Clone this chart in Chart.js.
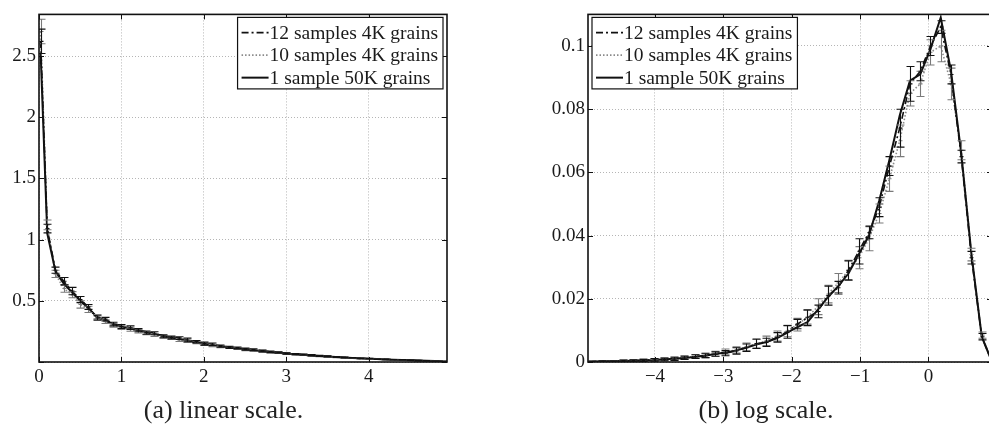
<!DOCTYPE html>
<html>
<head>
<meta charset="utf-8">
<script src="https://cdn.jsdelivr.net/npm/chart.js@4/dist/chart.umd.min.js"></script>
<style>
  html, body { margin: 0; padding: 0; background: #fff; overflow: hidden; width: 989px; height: 425px; }
  canvas { position: absolute; top: 0; }
  #linChart { left: 0; }
  #logChart { left: 540px; }
</style>
</head>
<body>
<canvas id="linChart" width="460" height="425"></canvas>
<canvas id="logChart" width="462" height="425"></canvas>
<script>
const seriesNames = ['12 samples 4K grains', '10 samples 4K grains', '1 sample 50K grains'];

// (a) linear scale
const linX = [0.02, 0.1, 0.2, 0.3, 0.4, 0.5, 0.6, 0.7, 0.8, 0.9,
  1.0, 1.1, 1.2, 1.3, 1.4, 1.5, 1.6, 1.7, 1.8, 1.9,
  2.0, 2.1, 2.2, 2.3, 2.4, 2.5, 2.6, 2.7, 2.8, 2.9,
  3.0, 3.1, 3.2, 3.3, 3.4, 3.5, 3.6, 3.7, 3.8, 3.9,
  4.0, 4.1, 4.2, 4.3, 4.4, 4.5, 4.6, 4.7, 4.8, 4.9];
const lin12 = [2.62, 1.09, 0.75, 0.66, 0.58, 0.51, 0.45, 0.36, 0.35, 0.31,
  0.29, 0.28, 0.26, 0.24, 0.235, 0.21, 0.2, 0.195, 0.18, 0.165,
  0.15, 0.145, 0.13, 0.12, 0.115, 0.105, 0.1, 0.09, 0.083, 0.077,
  0.07, 0.065, 0.06, 0.055, 0.05, 0.046, 0.041, 0.037, 0.034, 0.03,
  0.027, 0.024, 0.022, 0.019, 0.017, 0.015, 0.012, 0.01, 0.008, 0.006];
const lin12Err = [0.1, 0.035, 0.025, 0.03, 0.03, 0.025, 0.02, 0.018, 0.015, 0.015,
  0.015, 0.015, 0.013, 0.013, 0.012, 0.012, 0.011, 0.011, 0.015, 0.01,
  0.012, 0.01, 0.009, 0.009, 0.008, 0.008, 0.007, 0.007, 0.006, 0.006,
  0.006, 0.005, 0.005, 0.005, 0.004, 0.004, 0.004, 0.004, 0.003, 0.003,
  0.003, 0.003, 0.003, 0.002, 0.002, 0.002, 0.002, 0.002, 0.002, 0.002];
const lin10 = [2.7, 1.12, 0.72, 0.6, 0.55, 0.47, 0.43, 0.37, 0.33, 0.3,
  0.28, 0.265, 0.25, 0.235, 0.22, 0.205, 0.195, 0.18, 0.17, 0.16,
  0.145, 0.135, 0.125, 0.118, 0.11, 0.1, 0.095, 0.088, 0.08, 0.075,
  0.068, 0.063, 0.058, 0.053, 0.048, 0.044, 0.04, 0.036, 0.032, 0.029,
  0.026, 0.023, 0.021, 0.018, 0.016, 0.014, 0.012, 0.01, 0.008, 0.006];
const lin10Err = [0.1, 0.04, 0.03, 0.03, 0.025, 0.03, 0.025, 0.018, 0.015, 0.015,
  0.014, 0.014, 0.013, 0.012, 0.012, 0.011, 0.011, 0.012, 0.01, 0.01,
  0.01, 0.009, 0.009, 0.008, 0.008, 0.008, 0.007, 0.007, 0.006, 0.006,
  0.005, 0.005, 0.005, 0.004, 0.004, 0.004, 0.004, 0.003, 0.003, 0.003,
  0.003, 0.003, 0.002, 0.002, 0.002, 0.002, 0.002, 0.002, 0.002, 0.002];
const lin1 = [2.52, 1.05, 0.74, 0.64, 0.57, 0.5, 0.44, 0.37, 0.34, 0.31,
  0.29, 0.275, 0.26, 0.245, 0.23, 0.215, 0.2, 0.19, 0.175, 0.16,
  0.15, 0.14, 0.13, 0.12, 0.112, 0.104, 0.096, 0.089, 0.082, 0.076,
  0.07, 0.064, 0.059, 0.054, 0.049, 0.045, 0.041, 0.037, 0.033, 0.03,
  0.027, 0.024, 0.021, 0.019, 0.017, 0.014, 0.012, 0.01, 0.008, 0.006];

// (b) log scale
const logX = [-4.92, -4.77, -4.62, -4.47, -4.32, -4.17, -4.02, -3.87, -3.72, -3.57,
  -3.42, -3.27, -3.12, -2.97, -2.82, -2.67, -2.52, -2.37, -2.22, -2.07,
  -1.92, -1.77, -1.62, -1.47, -1.32, -1.17, -1.02, -0.87, -0.72, -0.57,
  -0.42, -0.27, -0.12, 0.03, 0.18, 0.33, 0.48, 0.63, 0.78, 0.93];
const log12 = [0.0001, 0.0002, 0.0002, 0.0003, 0.0004, 0.0005, 0.0007, 0.0008, 0.001, 0.0013,
  0.0017, 0.002, 0.0025, 0.0028, 0.0035, 0.0045, 0.0058, 0.0062, 0.0078, 0.0095,
  0.012, 0.014, 0.016, 0.021, 0.0235, 0.029, 0.035, 0.041, 0.049, 0.062,
  0.074, 0.088, 0.092, 0.1, 0.106, 0.091, 0.065, 0.033, 0.008, 0.0];
const log12Err = [0.0002, 0.0002, 0.0002, 0.0003, 0.0003, 0.0003, 0.0004, 0.0004, 0.0005, 0.0005,
  0.0006, 0.0006, 0.0007, 0.0008, 0.001, 0.0012, 0.0015, 0.0013, 0.0015, 0.002,
  0.0015, 0.0025, 0.002, 0.003, 0.002, 0.003, 0.004, 0.002, 0.003, 0.003,
  0.006, 0.0055, 0.003, 0.003, 0.002, 0.003, 0.002, 0.002, 0.001, 0.0];
const log10 = [0.0001, 0.0001, 0.0002, 0.0003, 0.0004, 0.0006, 0.0006, 0.0009, 0.0011, 0.0014,
  0.0017, 0.0021, 0.0026, 0.0032, 0.0038, 0.0048, 0.0057, 0.0067, 0.0082, 0.0098,
  0.0118, 0.0142, 0.0175, 0.0215, 0.025, 0.029, 0.033, 0.039, 0.047, 0.058,
  0.07, 0.085, 0.088, 0.098, 0.1, 0.088, 0.067, 0.034, 0.0085, 0.0];
const log10Err = [0.0002, 0.0002, 0.0002, 0.0003, 0.0003, 0.0004, 0.0004, 0.0005, 0.0005, 0.0006,
  0.0006, 0.0007, 0.0008, 0.0009, 0.001, 0.0012, 0.0014, 0.0015, 0.0016, 0.0018,
  0.002, 0.0022, 0.0025, 0.0028, 0.003, 0.0032, 0.0035, 0.0038, 0.003, 0.004,
  0.005, 0.004, 0.004, 0.004, 0.005, 0.005, 0.003, 0.002, 0.001, 0.0];
const log1 = [0.0001, 0.0002, 0.0002, 0.0003, 0.0004, 0.0005, 0.0006, 0.0008, 0.001, 0.0013,
  0.0016, 0.002, 0.0025, 0.003, 0.0036, 0.0045, 0.0055, 0.0063, 0.0075, 0.0092,
  0.011, 0.0126, 0.0165, 0.0205, 0.024, 0.028, 0.034, 0.04, 0.051, 0.064,
  0.078, 0.089, 0.091, 0.099, 0.109, 0.092, 0.066, 0.034, 0.008, 0.0];

Chart.defaults.font.family = '"Liberation Serif", "Times New Roman", serif';
Chart.defaults.font.size = 19;
Chart.defaults.color = '#1a1a1a';

const fmt = v => String(+v.toFixed(6)).replace('-', '\u2212');
const onStep = (v, step) => Math.abs(v / step - Math.round(v / step)) < 1e-6;

// error bars, frame, inside ticks and boxed legend
const matlabLook = {
  id: 'matlabLook',
  afterDatasetsDraw(chart) {
    const {ctx, chartArea: a, scales: {x, y}} = chart;
    ctx.save();
    ctx.beginPath();
    ctx.rect(a.left, a.top, a.right - a.left, a.bottom - a.top);
    ctx.clip();
    [1, 0].forEach(i => {
      const ds = chart.data.datasets[i];
      ctx.strokeStyle = ds.barColor;
      ctx.lineWidth = 1.1;
      ctx.setLineDash([]);
      ds.data.forEach((p, k) => {
        const e = ds.errors[k];
        if (!e) return;
        const px = Math.round(x.getPixelForValue(p.x)) + 0.5;
        const y1 = y.getPixelForValue(p.y - e);
        const y2 = y.getPixelForValue(p.y + e);
        const yc = y.getPixelForValue(p.y);
        ctx.beginPath();
        ctx.moveTo(px, y1); ctx.lineTo(px, y2);
        ctx.moveTo(px - 4, y1); ctx.lineTo(px + 4, y1);
        ctx.moveTo(px - 4, y2); ctx.lineTo(px + 4, y2);
        ctx.moveTo(px - 2, yc); ctx.lineTo(px + 2, yc);
        ctx.stroke();
      });
    });
    ctx.restore();
  },
  afterDraw(chart, args, opts) {
    const {ctx, chartArea: a, scales: {x, y}} = chart;
    ctx.save();
    ctx.setLineDash([]);
    ctx.strokeStyle = '#111';
    ctx.lineWidth = 1;
    x.ticks.forEach(t => {
      const px = Math.round(x.getPixelForValue(t.value)) + 0.5;
      ctx.beginPath();
      ctx.moveTo(px, a.bottom); ctx.lineTo(px, a.bottom - 5);
      ctx.moveTo(px, a.top); ctx.lineTo(px, a.top + 5);
      ctx.stroke();
    });
    y.ticks.forEach(t => {
      const py = Math.round(y.getPixelForValue(t.value)) + 0.5;
      ctx.beginPath();
      ctx.moveTo(a.left, py); ctx.lineTo(a.left + 5, py);
      ctx.moveTo(a.right, py); ctx.lineTo(a.right - 5, py);
      ctx.stroke();
    });
    ctx.lineWidth = 1.6;
    ctx.strokeRect(a.left, a.top, a.right - a.left, a.bottom - a.top);

    // legend box
    const dsets = chart.data.datasets;
    ctx.font = '19.5px "Liberation Serif", serif';
    const textW = Math.max(...dsets.map(d => ctx.measureText(d.label).width));
    const boxW = 4 + 27 + 1 + textW + 5;
    const rowH = 22.5;
    const boxH = rowH * dsets.length + 4;
    const left = opts.side === 'right' ? a.right - 4 - boxW : a.left + 4;
    const top = a.top + 3;
    ctx.fillStyle = '#fff';
    ctx.fillRect(left, top, boxW, boxH);
    ctx.lineWidth = 1.2;
    ctx.strokeStyle = '#111';
    ctx.strokeRect(left, top, boxW, boxH);
    dsets.forEach((d, r) => {
      const cy = top + 4 + rowH * (r + 0.5);
      ctx.beginPath();
      ctx.setLineDash(d.borderDash || []);
      ctx.strokeStyle = d.borderColor;
      ctx.lineWidth = d.borderWidth;
      ctx.moveTo(left + 4, cy); ctx.lineTo(left + 31, cy);
      ctx.stroke();
      ctx.setLineDash([]);
      ctx.fillStyle = '#1a1a1a';
      ctx.textBaseline = 'middle';
      ctx.textAlign = 'left';
      ctx.fillText(d.label, left + 32, cy + 1);
    });
    ctx.restore();
  }
};

function makeChart(id, xs, s12, e12, s10, e10, s1, axes, caption, legendSide) {
  const pts = ys => xs.map((x, i) => ({x: x, y: ys[i]}));
  const axis = (ax, side) => ({
    type: 'linear',
    min: ax.min,
    max: ax.max,
    afterBuildTicks: s => { s.ticks = s.ticks.filter(t => onStep(t.value, ax.step)); },
    afterFit: s => { if (side === 'x') s.height = 36; else s.width = ax.width; },
    grid: { color: '#b5b5b5', lineWidth: 1, drawTicks: false },
    border: { display: false, dash: [1, 2] },
    ticks: {
      stepSize: ax.step,
      includeBounds: false,
      padding: side === 'x' ? 4 : 3,
      maxRotation: 0,
      autoSkip: false,
      callback: v => (ax.hideZero && v === 0) ? '' : fmt(v)
    }
  });
  return new Chart(document.getElementById(id), {
    type: 'line',
    data: {
      datasets: [
        { label: seriesNames[0], data: pts(s12), errors: e12, barColor: '#111',
          borderColor: '#111', borderWidth: 1.6, borderDash: [7, 3, 2, 3], order: 1 },
        { label: seriesNames[1], data: pts(s10), errors: e10, barColor: '#7a7a7a',
          borderColor: '#8a8a8a', borderWidth: 1.6, borderDash: [1.5, 2], order: 2 },
        { label: seriesNames[2], data: pts(s1), borderColor: '#111', borderWidth: 2, order: 0 }
      ]
    },
    options: {
      responsive: false,
      animation: false,
      devicePixelRatio: 1,
      elements: { point: { radius: 0 }, line: { tension: 0 } },
      layout: { padding: { top: 14, right: axes.padRight, left: 0, bottom: 0 } },
      scales: { x: axis(axes.x, 'x'), y: axis(axes.y, 'y') },
      plugins: {
        legend: { display: false },
        tooltip: { enabled: false },
        title: {
          display: true, position: 'bottom', text: caption, color: '#222',
          font: { size: 26, weight: 'normal', lineHeight: 1 },
          padding: { top: 0, bottom: 1 }
        },
        matlabLook: { side: legendSide }
      }
    },
    plugins: [matlabLook]
  });
}

makeChart('linChart', linX, lin12, lin12Err, lin10, lin10Err, lin1, {
  padRight: 13,
  x: { min: 0, max: 4.95, step: 1 },
  y: { min: 0, max: 2.84, step: 0.5, width: 39, hideZero: true }
}, '(a) linear scale.', 'right');

makeChart('logChart', logX, log12, log12Err, log10, log10Err, log1, {
  padRight: 10,
  x: { min: -4.98, max: 0.93, step: 1 },
  y: { min: 0, max: 0.11, step: 0.02, width: 48 }
}, '(b) log scale.', 'left');
</script>
</body>
</html>
